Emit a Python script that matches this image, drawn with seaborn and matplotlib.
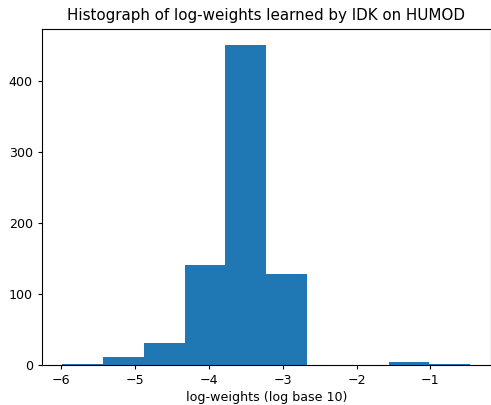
import numpy as np
import pandas as pd
import seaborn as sns
import matplotlib
matplotlib.use("Agg")
import matplotlib.pyplot as plt

# bin centres (log10 of weight) and how many weights fall in each bin
bin_centers = [-5.71, -5.16, -4.60, -4.05, -3.50, -2.95, -2.39, -1.84, -1.29, -0.74]
bin_counts = [2, 11, 31, 140, 450, 128, 0, 0, 4, 2]
log_range = (-5.987, -0.46)

plt.rcParams['font.size'] = 9.1
plt.rcParams['xtick.major.size'] = 3.2
plt.rcParams['ytick.major.size'] = 3.2

df = pd.DataFrame({'log_w': bin_centers, 'n': bin_counts})

fig, ax = plt.subplots(figsize=(4.91, 4.05), dpi=100)
sns.histplot(data=df, x='log_w', weights='n', bins=10, binrange=log_range,
             color='#1f77b4', alpha=1, edgecolor='none', linewidth=0, ax=ax)
ax.set_title("Histograph of log-weights learned by IDK on HUMOD", fontsize=10.9, pad=6.5)
ax.set_xlabel("log-weights (log base 10)", labelpad=3)
ax.set_ylabel("")
ax.set_xticks([-6, -5, -4, -3, -2, -1])

plt.subplots_adjust(left=0.0855, right=0.999, top=0.928, bottom=0.0988)
plt.savefig("out.png", dpi=100)
